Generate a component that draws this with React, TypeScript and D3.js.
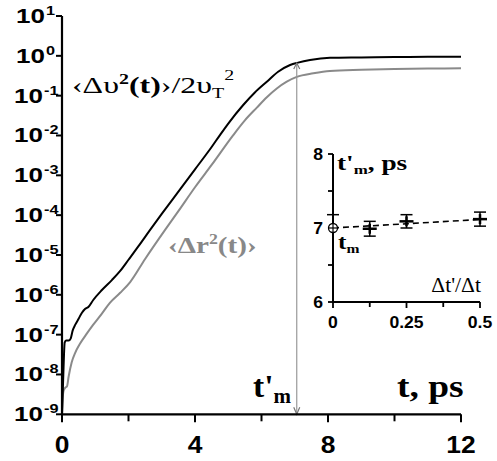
import React from "react";
import * as d3 from "d3";

const W = 497;
const H = 461;

// main curves: time (ps) and log10 of value
const blackT = [0, 0.02, 0.04, 0.06, 0.08, 0.12, 0.2, 0.26, 0.32, 0.4, 0.5, 0.6, 0.7, 0.8, 0.94, 1.2, 1.5, 1.75, 2.0, 2.3, 2.65, 3.0, 3.5, 4.0, 4.5, 4.75, 5.0, 5.45, 5.8, 6.16, 6.5, 6.86, 7.1, 7.46, 8.06, 9, 10, 11, 12];
const blackLog = [-9.0, -8.5, -8.0, -7.5, -7.2, -7.15, -7.15, -7.1, -6.9, -6.75, -6.6, -6.45, -6.35, -6.3, -6.13, -5.88, -5.63, -5.4, -5.12, -4.78, -4.37, -3.97, -3.41, -2.85, -2.29, -1.99, -1.70, -1.235, -0.92, -0.65, -0.40, -0.23, -0.17, -0.105, -0.05, -0.04, -0.03, -0.025, -0.02];

const grayT = [0, 0.02, 0.05, 0.1, 0.15, 0.2, 0.29, 0.4, 0.54, 0.75, 0.94, 1.2, 1.44, 1.75, 2.05, 2.5, 3.1, 3.5, 4.0, 4.5, 5.15, 5.5, 5.86, 6.16, 6.46, 6.76, 7.06, 7.56, 8.06, 9, 10, 11, 12];
const grayLog = [-9.0, -8.6, -8.4, -8.33, -8.3, -8.05, -7.7, -7.45, -7.23, -6.97, -6.75, -6.47, -6.2, -5.95, -5.68, -5.1, -4.37, -3.9, -3.3, -2.74, -1.99, -1.62, -1.30, -1.04, -0.82, -0.65, -0.53, -0.44, -0.38, -0.35, -0.33, -0.32, -0.31];

const xTicks = [0, 2, 4, 6, 8, 10, 12];
const xLabels = [0, 4, 8, 12];
const yExps = [-9, -8, -7, -6, -5, -4, -3, -2, -1, 0, 1];
const tPrime = 7.06;

// inset
const insetX = [0, 0.125, 0.25, 0.5];
const insetY = [7.0, 6.99, 7.09, 7.12];
const insetErr = [0.18, 0.1, 0.09, 0.095];
const fitY = [7.0, 7.115];
const insetXTicks = [0, 0.125, 0.25, 0.375, 0.5];
const insetXLabels = ["0", "0.25", "0.5"];
const insetXLabelVals = [0, 0.25, 0.5];
const insetYTicks = [6, 6.5, 7, 7.5, 8];
const insetYLabels = [6, 7, 8];

const SANS = "'Liberation Sans', Arial, sans-serif";
const SERIF = "'Liberation Serif', 'Times New Roman', serif";

function S({ x, y, sx, children }: { x: number; y: number; sx: number; children: React.ReactNode }) {
  return <g transform={`translate(${x},${y}) scale(${sx},1)`}>{children}</g>;
}

export default function App() {
  const x = d3.scaleLinear().domain([0, 12]).range([62, 461]);
  const y = d3.scaleLog().domain([1e-9, 1e1]).range([414.3, 16]);
  const xi = d3.scaleLinear().domain([0, 0.5]).range([333, 480]);
  const yi = d3.scaleLinear().domain([6, 8]).range([302, 154]);

  const black = blackT.map((t, i) => [t, Math.pow(10, blackLog[i])] as [number, number]);
  const gray = grayT.map((t, i) => [t, Math.pow(10, grayLog[i])] as [number, number]);
  const line = d3
    .line<[number, number]>()
    .x((d) => x(d[0]))
    .y((d) => y(d[1]))
    .curve(d3.curveMonotoneX);

  const blackAtT = Math.pow(10, d3.interpolateNumber(-0.23, -0.17)((tPrime - 6.86) / (7.1 - 6.86)));
  const ax = x(tPrime);
  const aTop = y(blackAtT);
  const aBot = y(1e-9);

  return (
    <svg width={W} height={H} style={{ position: "absolute", left: 0, top: 0, background: "#fff" }}>
      <rect x={0} y={0} width={W} height={H} fill="#fff" />
      {/* curves */}
      <path d={line(gray) || ""} fill="none" stroke="#8a8a8a" strokeWidth={2} />
      <path d={line(black) || ""} fill="none" stroke="#000" strokeWidth={2} />

      {/* arrow t'm */}
      <line x1={ax} x2={ax} y1={aTop} y2={aBot} stroke="#999" strokeWidth={1.2} />
      <polyline points={`${ax - 3},${aBot - 7} ${ax},${aBot} ${ax + 3},${aBot - 7}`} fill="none" stroke="#777" strokeWidth={1.2} />
      <polyline points={`${ax - 3},${aTop + 6} ${ax},${aTop} ${ax + 3},${aTop + 6}`} fill="none" stroke="#777" strokeWidth={1.2} />

      {/* main axes */}
      <line x1={x(0)} x2={x(12)} y1={y(1e-9)} y2={y(1e-9)} stroke="#000" strokeWidth={2.2} />
      <line x1={x(0)} x2={x(0)} y1={y(1e-9) + 1} y2={y(10)} stroke="#000" strokeWidth={2.2} />
      {xTicks.map((t) => (
        <line key={"xt" + t} x1={x(t)} x2={x(t)} y1={y(1e-9)} y2={y(1e-9) + (t % 4 === 0 ? 8 : 7)} stroke="#000" strokeWidth={2} />
      ))}
      {xLabels.map((t) => (
        <S key={"xl" + t} x={x(t)} y={453} sx={1.1}>
          <text x={0} y={0} textAnchor="middle" fontFamily={SANS} fontWeight="bold" fontSize={24}>
            {t}
          </text>
        </S>
      ))}
      {yExps.map((e) => (
        <g key={"y" + e}>
          <line x1={x(0) - 6} x2={x(0)} y1={y(Math.pow(10, e))} y2={y(Math.pow(10, e))} stroke="#000" strokeWidth={2} />
          <S x={e < 0 ? 43 : 45} y={y(Math.pow(10, e)) + 7} sx={1.3}>
            <text x={0} y={0} textAnchor="end" fontFamily={SANS} fontWeight="bold" fontSize={20}>
              10
            </text>
          </S>
          <S x={e < 0 ? 44 : 46} y={y(Math.pow(10, e)) - 1} sx={1.25}>
            <text x={0} y={0} fontFamily={SANS} fontWeight="bold" fontSize={13}>
              {e < 0 ? "-" + -e : String(e)}
            </text>
          </S>
        </g>
      ))}

      {/* main labels */}
      <S x={72} y={93} sx={1.33}>
        <text x={0} y={0} fontFamily={SERIF} fontSize={24}>
          ‹Δυ<tspan fontSize={15} dy={-9} fontWeight="bold">2</tspan>
          <tspan dy={9} fontWeight="bold">(t)</tspan>›/2υ<tspan fontSize={15} dy={5}>T</tspan>
          <tspan fontSize={15} dy={-18}>2</tspan>
        </text>
      </S>
      <S x={168} y={253} sx={1.27}>
        <text x={0} y={0} fontFamily={SERIF} fontSize={23} fontWeight="bold" fill="#888">
          ‹Δr<tspan fontSize={14} dy={-9}>2</tspan>
          <tspan dy={9}>(t)›</tspan>
        </text>
      </S>
      <S x={253} y={397} sx={1.05}>
        <text x={0} y={0} fontFamily={SERIF} fontSize={32} fontWeight="bold">
          t'<tspan fontSize={20} dy={6}>m</tspan>
        </text>
      </S>
      <S x={397} y={397} sx={1.17}>
        <text x={0} y={0} fontFamily={SERIF} fontSize={32} fontWeight="bold">
          t, ps
        </text>
      </S>

      {/* inset axes */}
      <line x1={xi(0)} x2={xi(0.5)} y1={yi(6)} y2={yi(6)} stroke="#000" strokeWidth={2} />
      <line x1={xi(0)} x2={xi(0)} y1={yi(6) + 1} y2={yi(8)} stroke="#000" strokeWidth={2} />
      {insetXTicks.map((v) => (
        <line key={"ixt" + v} x1={xi(v)} x2={xi(v)} y1={yi(6)} y2={yi(6) + (v === 0 || v === 0.25 || v === 0.5 ? 6 : 5)} stroke="#000" strokeWidth={1.8} />
      ))}
      {insetYTicks.map((v) => (
        <line key={"iyt" + v} x1={xi(0) - 5} x2={xi(0)} y1={yi(v)} y2={yi(v)} stroke="#000" strokeWidth={1.8} />
      ))}
      {insetXLabelVals.map((v, i) => (
        <S key={"ixl" + v} x={xi(v)} y={328} sx={1.1}>
          <text x={0} y={0} textAnchor="middle" fontFamily={SANS} fontWeight="bold" fontSize={16}>
            {insetXLabels[i]}
          </text>
        </S>
      ))}
      {insetYLabels.map((v) => (
        <S key={"iyl" + v} x={323} y={yi(v) + 6} sx={1.1}>
          <text x={0} y={0} textAnchor="end" fontFamily={SANS} fontWeight="bold" fontSize={16}>
            {v}
          </text>
        </S>
      ))}

      {/* fit line */}
      <line x1={xi(0)} x2={xi(0.5)} y1={yi(fitY[0])} y2={yi(fitY[1])} stroke="#000" strokeWidth={1.6} strokeDasharray="6,4" />

      {/* inset points */}
      {insetX.map((v, i) => {
        const cx = xi(v);
        const cy = yi(insetY[i]);
        const top = yi(insetY[i] + insetErr[i]);
        const bot = yi(insetY[i] - insetErr[i]);
        if (i === 0) {
          return (
            <g key={"ip" + i}>
              <line x1={cx} x2={cx} y1={top} y2={cy} stroke="#000" strokeWidth={1.5} />
              <line x1={cx - 6} x2={cx + 6} y1={top} y2={top} stroke="#000" strokeWidth={1.5} />
              <circle cx={cx} cy={cy} r={4.5} fill="#fff" stroke="#000" strokeWidth={1.3} />
              <line x1={cx - 4.5} x2={cx + 4.5} y1={cy} y2={cy} stroke="#000" strokeWidth={1.2} />
              <line x1={cx} x2={cx} y1={cy - 4.5} y2={cy + 4.5} stroke="#000" strokeWidth={1.2} />
            </g>
          );
        }
        return (
          <g key={"ip" + i}>
            <line x1={cx} x2={cx} y1={top} y2={bot} stroke="#000" strokeWidth={1.5} />
            <line x1={cx - 6} x2={cx + 6} y1={top} y2={top} stroke="#000" strokeWidth={1.5} />
            <line x1={cx - 6} x2={cx + 6} y1={bot} y2={bot} stroke="#000" strokeWidth={1.5} />
            <line x1={cx - 7} x2={cx + 7} y1={cy} y2={cy} stroke="#000" strokeWidth={2.5} />
            <line x1={cx} x2={cx} y1={cy - 5} y2={cy + 5} stroke="#000" strokeWidth={2.5} />
          </g>
        );
      })}

      {/* inset labels */}
      <S x={337} y={170} sx={1.3}>
        <text x={0} y={0} fontFamily={SERIF} fontSize={21} fontWeight="bold">
          t'<tspan fontSize={13} dy={4}>m</tspan>
          <tspan dy={-4}>, ps</tspan>
        </text>
      </S>
      <S x={338} y={249} sx={1.2}>
        <text x={0} y={0} fontFamily={SERIF} fontSize={21} fontWeight="bold">
          t<tspan fontSize={13} dy={4}>m</tspan>
        </text>
      </S>
      <S x={481} y={292} sx={1.08}>
        <text x={0} y={0} textAnchor="end" fontFamily={SERIF} fontSize={20}>
          Δt'/Δt
        </text>
      </S>
    </svg>
  );
}
